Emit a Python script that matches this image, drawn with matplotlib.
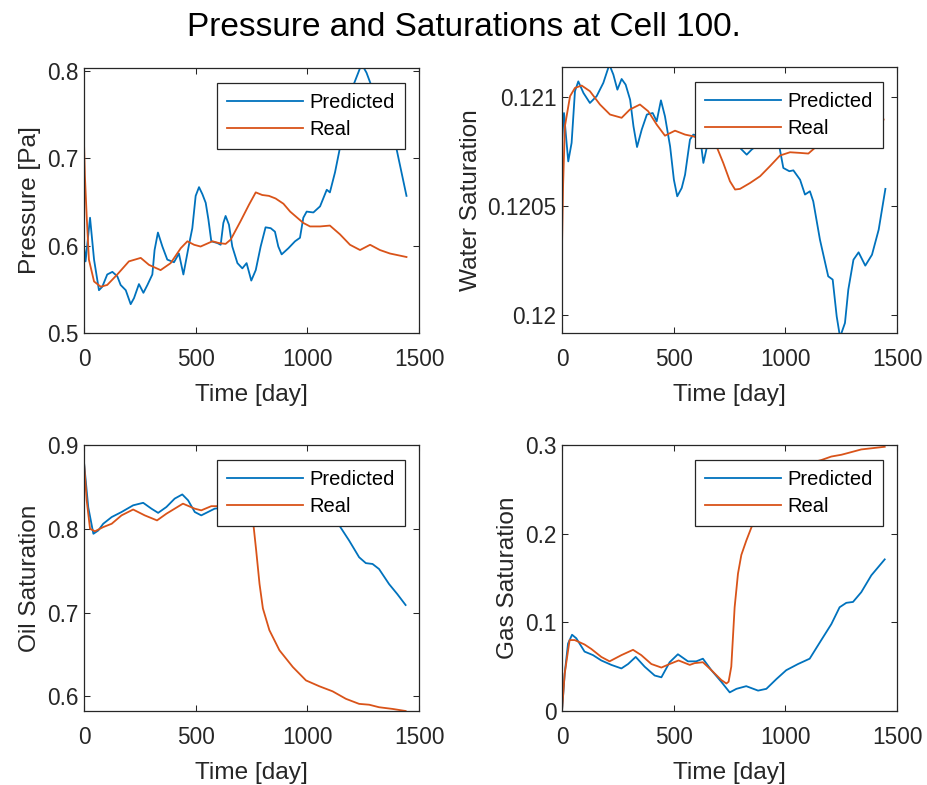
import matplotlib
matplotlib.use("Agg")
import matplotlib.pyplot as plt
from matplotlib.ticker import FuncFormatter

plt.rcParams['font.family'] = ['Liberation Sans', 'DejaVu Sans']

# ---------------- data ----------------
p_t_pred = [0, 7, 27, 45, 67, 82, 104, 127, 149, 164,
            187, 209, 224, 246, 266, 284, 306, 316, 331, 351,
            373, 403, 425, 445, 470, 485, 500, 515, 530, 545,
            557, 570, 597, 612, 624, 634, 649, 664, 687, 709,
            728, 749, 769, 791, 813, 836, 855, 870, 885, 915,
            945, 967, 982, 997, 1027, 1057, 1087, 1101, 1124, 1146,
            1169, 1199, 1228, 1243, 1265, 1281, 1400, 1444]
p_pred = [0.60, 0.582, 0.632, 0.584, 0.549, 0.553, 0.567, 0.570, 0.565, 0.555,
          0.549, 0.533, 0.540, 0.556, 0.546, 0.555, 0.567, 0.595, 0.615, 0.599,
          0.584, 0.581, 0.591, 0.567, 0.601, 0.620, 0.657, 0.667, 0.659, 0.649,
          0.630, 0.605, 0.603, 0.601, 0.626, 0.634, 0.624, 0.599, 0.580, 0.574,
          0.580, 0.560, 0.572, 0.599, 0.621, 0.620, 0.616, 0.599, 0.590, 0.597,
          0.605, 0.609, 0.632, 0.639, 0.638, 0.645, 0.664, 0.661, 0.684, 0.712,
          0.749, 0.779, 0.798, 0.808, 0.798, 0.787, 0.710, 0.657]
p_t_real = [0, 4, 12, 22, 45, 75, 104, 149, 201, 254,
            291, 343, 388, 433, 463, 493, 522, 575, 604, 634,
            657, 701, 739, 769, 798, 828, 858, 893, 923, 982,
            1012, 1057, 1101, 1146, 1191, 1236, 1281, 1325, 1370, 1444]
p_real = [0.718, 0.68, 0.634, 0.584, 0.559, 0.553, 0.555, 0.567, 0.582, 0.586,
          0.578, 0.572, 0.580, 0.597, 0.605, 0.601, 0.599, 0.605, 0.603, 0.602,
          0.607, 0.628, 0.647, 0.661, 0.658, 0.657, 0.654, 0.648, 0.639, 0.626,
          0.622, 0.622, 0.623, 0.613, 0.601, 0.595, 0.601, 0.595, 0.591, 0.587]

w_t_pred = [0, 9, 18, 28, 43, 58, 73, 96, 125, 155,
            185, 212, 230, 248, 267, 285, 305, 320, 336, 357,
            380, 406, 424, 443, 461, 484, 501, 516, 536, 551,
            573, 588, 618, 633, 648, 700, 760, 797, 827, 849,
            900, 973, 991, 1018, 1036, 1066, 1088, 1110, 1125, 1155,
            1192, 1212, 1230, 1245, 1267, 1282, 1305, 1328, 1358, 1388,
            1418, 1448]
w_pred = [0.12080, 0.120928, 0.120821, 0.120706, 0.120791, 0.121028, 0.121073, 0.121020, 0.120974, 0.121005,
          0.121066, 0.121150, 0.121104, 0.121035, 0.121084, 0.121058, 0.120989, 0.120867, 0.120772, 0.120852,
          0.120921, 0.120928, 0.120890, 0.120986, 0.120913, 0.120775, 0.120622, 0.120546, 0.120584, 0.120645,
          0.120806, 0.120829, 0.120821, 0.120699, 0.120768, 0.12082, 0.12080, 0.120768, 0.120737, 0.120760,
          0.12080, 0.120775, 0.120676, 0.120661, 0.120665, 0.120622, 0.120554, 0.120569, 0.120523, 0.120347,
          0.120179, 0.120164, 0.119995, 0.11990, 0.119965, 0.120118, 0.120255, 0.120289, 0.120228, 0.120278,
          0.120393, 0.120580]
w_t_real = [0, 5, 13, 36, 58, 88, 125, 170, 215, 267,
            304, 349, 386, 424, 461, 506, 551, 588, 640, 693,
            722, 752, 775, 797, 842, 887, 931, 976, 1021, 1066,
            1103, 1140, 1200, 1300, 1400, 1440]
w_real = [0.120317, 0.1206, 0.120867, 0.121005, 0.121043, 0.121054, 0.121028, 0.120967, 0.120921, 0.120906,
          0.120944, 0.120967, 0.120936, 0.120875, 0.120824, 0.120847, 0.120829, 0.120821, 0.1208, 0.120772,
          0.120699, 0.120615, 0.120577, 0.120580, 0.120607, 0.120638, 0.120684, 0.120733, 0.120748, 0.120745,
          0.120742, 0.120775, 0.12083, 0.12087, 0.12089, 0.120898]

o_t_pred = [0, 19, 42, 64, 86, 124, 168, 220, 265, 302, 332, 369, 406, 440, 466, 496, 525, 555, 585, 650,
            750, 850, 950, 1050, 1110, 1143, 1187, 1232, 1262, 1292, 1321, 1366, 1403, 1440]
o_pred = [0.8795, 0.8258, 0.794, 0.798, 0.806, 0.814, 0.820, 0.828, 0.831, 0.824,
          0.819, 0.826, 0.836, 0.841, 0.834, 0.820, 0.816, 0.820, 0.824, 0.826,
          0.83, 0.83, 0.826, 0.822, 0.815, 0.804, 0.786, 0.766, 0.759, 0.758,
          0.752, 0.734, 0.722, 0.709]
o_t_real = [0, 12, 27, 49, 86, 124, 168, 220, 272, 327, 369, 443, 496, 525, 570, 592, 650, 700, 740, 759,
            771, 786, 801, 830, 875, 935, 994, 1054, 1113, 1173, 1232, 1277, 1321, 1381, 1440]
o_real = [0.8795, 0.834, 0.800, 0.797, 0.802, 0.806, 0.816, 0.823, 0.816, 0.810,
          0.818, 0.830, 0.824, 0.822, 0.827, 0.827, 0.828, 0.826, 0.818, 0.804,
          0.774, 0.734, 0.705, 0.679, 0.655, 0.635, 0.619, 0.612, 0.606, 0.597,
          0.591, 0.590, 0.587, 0.585, 0.5825]

g_t_pred = [0, 12, 27, 45, 64, 101, 139, 176, 221, 266, 296, 330, 370, 415, 445, 482, 519, 564, 601, 631,
            669, 713, 751, 781, 825, 878, 915, 960, 1004, 1057, 1109, 1161, 1206, 1243, 1273, 1303, 1340, 1385, 1445]
g_pred = [0.0, 0.042, 0.076, 0.086, 0.082, 0.067, 0.063, 0.057, 0.052, 0.048,
          0.053, 0.061, 0.050, 0.040, 0.038, 0.055, 0.064, 0.056, 0.056, 0.059,
          0.046, 0.033, 0.021, 0.025, 0.028, 0.023, 0.025, 0.036, 0.046, 0.053,
          0.059, 0.080, 0.098, 0.117, 0.122, 0.123, 0.134, 0.153, 0.171]
g_t_real = [0, 12, 34, 57, 101, 131, 176, 213, 266, 318, 355, 400, 445, 482, 522, 572, 594, 631, 669, 713,
            736, 746, 758, 773, 788, 803, 825, 848, 880, 920, 970, 1020, 1080, 1130, 1161, 1206, 1251, 1281, 1340, 1445]
g_real = [0.0, 0.042, 0.080, 0.080, 0.075, 0.070, 0.061, 0.056, 0.063, 0.069,
          0.063, 0.053, 0.049, 0.053, 0.057, 0.052, 0.054, 0.055, 0.046, 0.035,
          0.031, 0.033, 0.050, 0.117, 0.155, 0.176, 0.192, 0.207, 0.225, 0.243,
          0.258, 0.268, 0.276, 0.281, 0.283, 0.287, 0.289, 0.291, 0.295, 0.298]

series_labels = ["Predicted", "Real"]
x_ticks = [0, 500, 1000, 1500]
panel_ylabels = ["Pressure [Pa]", "Water Saturation", "Oil Saturation", "Gas Saturation"]
panel_yticks = [[0.5, 0.6, 0.7, 0.8], [0.12, 0.1205, 0.121], [0.6, 0.7, 0.8, 0.9], [0, 0.1, 0.2, 0.3]]
panel_ylims = [(0.5, 0.8034), (0.119919, 0.121139), (0.5825, 0.8994), (0.0, 0.2996)]
title = "Pressure and Saturations at Cell 100."

# ---------------- figure ----------------
W, H = 927, 785
fig = plt.figure(figsize=(W / 100, H / 100), dpi=100)

ax_px = [(84, 68, 419, 333), (562, 67, 897, 333), (84, 445, 419, 711), (562, 445, 897, 711)]
data = [(p_t_pred, p_pred, p_t_real, p_real), (w_t_pred, w_pred, w_t_real, w_real),
        (o_t_pred, o_pred, o_t_real, o_real), (g_t_pred, g_pred, g_t_real, g_real)]

blue = "#0072BD"
orange = "#D95319"
dark = "#262626"

fmt = FuncFormatter(lambda v, pos: ("%g" % v))

for i, (l, t, r, b) in enumerate(ax_px):
    ax = fig.add_axes([l / W, 1 - b / H, (r - l) / W, (b - t) / H])
    tp, yp, tr, yr = data[i]
    ax.plot(tp, yp, color=blue, lw=1.3, label=series_labels[0])
    ax.plot(tr, yr, color=orange, lw=1.3, label=series_labels[1])
    ax.set_xlim(0, 1500)
    ax.set_ylim(*panel_ylims[i])
    ax.set_xticks(x_ticks)
    ax.set_yticks(panel_yticks[i])
    ax.yaxis.set_major_formatter(fmt)
    ax.tick_params(direction='in', length=4, width=0.75, colors=dark, labelsize=16.3,
                   top=True, right=True)
    ax.tick_params(axis='x', pad=11)
    ax.tick_params(axis='y', pad=4)
    for s in ax.spines.values():
        s.set_color(dark)
        s.set_linewidth(0.9)
    ax.set_xlabel("Time [day]", fontsize=17.6, color=dark, labelpad=9)
    ax.set_ylabel(panel_ylabels[i], fontsize=17.6, color=dark, labelpad=4)
    leg = ax.legend(loc='upper right', bbox_to_anchor=(0.958, 0.943), borderaxespad=0,
                    fontsize=14.5, frameon=True, fancybox=False, framealpha=1,
                    handlelength=3.8, handletextpad=0.3, borderpad=0.5, labelspacing=0.4)
    leg.get_frame().set_edgecolor(dark)
    leg.get_frame().set_linewidth(0.9)

fig.text(0.5, 1 - 28 / H, title, ha='center', va='center', fontsize=24, color='black')

fig.savefig("out.png", dpi=100)
